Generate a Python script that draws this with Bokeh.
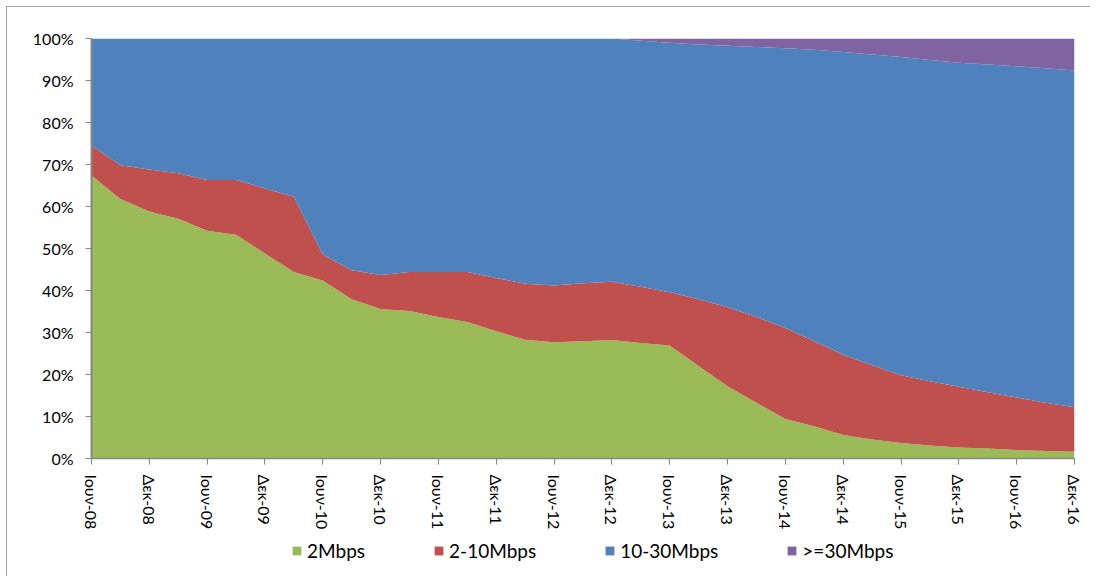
from bokeh.plotting import figure
from bokeh.models import ColumnDataSource, Range1d, FixedTicker, Legend, LegendItem
from bokeh.layouts import column
from bokeh.embed import file_html
from bokeh.resources import INLINE

# Quarterly observations, Jun-08 .. Dec-16 (percent of lines)
quarters = ["Ιουν-08", "Σεπ-08", "Δεκ-08", "Μαρ-09", "Ιουν-09", "Σεπ-09", "Δεκ-09", "Μαρ-10",
            "Ιουν-10", "Σεπ-10", "Δεκ-10", "Μαρ-11", "Ιουν-11", "Σεπ-11", "Δεκ-11", "Μαρ-12",
            "Ιουν-12", "Σεπ-12", "Δεκ-12", "Μαρ-13", "Ιουν-13", "Σεπ-13", "Δεκ-13", "Μαρ-14",
            "Ιουν-14", "Σεπ-14", "Δεκ-14", "Μαρ-15", "Ιουν-15", "Σεπ-15", "Δεκ-15", "Μαρ-16",
            "Ιουν-16", "Σεπ-16", "Δεκ-16"]

mbps_2 = [67.4, 61.8, 58.8, 57.1, 54.2, 53.3, 48.8, 44.4, 42.4, 37.9, 35.6, 35.1, 33.7, 32.5,
          30.3, 28.3, 27.7, 27.9, 28.2, 27.5, 26.9, 22.0, 17.2, 13.3, 9.4, 7.7, 5.6, 4.5, 3.7,
          3.1, 2.6, 2.4, 2.0, 1.8, 1.6]
mbps_2_10 = [7.1, 8.0, 10.0, 10.8, 12.1, 13.0, 15.5, 17.9, 6.2, 6.9, 8.1, 9.3, 10.7, 11.9,
             12.7, 13.3, 13.5, 13.8, 13.9, 13.4, 12.7, 15.9, 18.8, 20.4, 21.7, 20.2, 19.1, 17.7,
             16.1, 15.3, 14.5, 13.4, 12.5, 11.5, 10.6]
mbps_30 = [0, 0, 0, 0, 0, 0, 0, 0, 0, 0, 0, 0, 0, 0, 0, 0, 0, 0, 0, 0.55, 1.0, 1.4, 1.7, 2.0,
           2.3, 2.7, 3.2, 3.8, 4.4, 5.1, 5.8, 6.2, 6.6, 7.1, 7.6]
mbps_10_30 = [round(100 - a - b - c, 2) for a, b, c in zip(mbps_2, mbps_2_10, mbps_30)]

series_names = ["2Mbps", "2-10Mbps", "10-30Mbps", ">=30Mbps"]
colors = ["#9BBB59", "#C0504D", "#4F81BD", "#8064A2"]

# axis labels every 6 months
tick_idx = list(range(0, len(quarters), 2))
tick_labels = {i: quarters[i] for i in tick_idx}
y_ticks = list(range(0, 101, 10))

FONT = "Lato"
stackers = ["s0", "s1", "s2", "s3"]

src = ColumnDataSource(dict(x=list(range(len(quarters))), s0=mbps_2, s1=mbps_2_10,
                            s2=mbps_10_30, s3=mbps_30))

p = figure(width=1083, height=528, output_backend="svg", toolbar_location=None,
           x_range=Range1d(0, len(quarters) - 1), y_range=Range1d(0, 100),
           min_border_left=84, min_border_right=16, min_border_top=31, min_border_bottom=77)

rends = p.varea_stack(stackers=stackers, x="x", color=colors, source=src)

p.xgrid.visible = False
p.ygrid.visible = False
p.outline_line_color = None
p.background_fill_color = "white"
p.border_fill_color = "white"

xa = p.xaxis[0]
xa.ticker = FixedTicker(ticks=tick_idx)
xa.major_label_overrides = tick_labels
xa.major_label_orientation = "vertical"
xa.major_label_text_font = FONT
xa.major_label_text_font_size = "16px"
xa.major_label_text_color = "black"
xa.major_label_standoff = 10
xa.axis_line_color = "#868686"
xa.axis_line_width = 1.5
xa.major_tick_line_color = "#868686"
xa.major_tick_out = 6
xa.major_tick_in = 0
xa.minor_tick_line_color = None

ya = p.yaxis[0]
ya.ticker = FixedTicker(ticks=y_ticks)
ya.major_label_overrides = {v: f"{v}%" for v in y_ticks}
ya.major_label_text_font = FONT
ya.major_label_text_font_size = "16px"
ya.major_label_text_color = "black"
ya.major_label_standoff = 12
ya.axis_line_color = "#868686"
ya.axis_line_width = 2
ya.major_tick_line_color = "#868686"
ya.major_tick_out = 6
ya.major_tick_in = 0
ya.minor_tick_line_color = None

# legend strip below the chart (its areas lie outside its visible range)
lg = figure(width=1083, height=41, output_backend="svg", toolbar_location=None,
            x_range=Range1d(0, 1), y_range=Range1d(101, 102),
            x_axis_type=None, y_axis_type=None, min_border=0)
lg.xgrid.visible = False
lg.ygrid.visible = False
lg.outline_line_color = None
lg.border_fill_color = "white"
lg.background_fill_color = "white"
leg_rends = lg.varea_stack(stackers=stackers, x="x", color=colors, source=src)

legend = Legend(items=[LegendItem(label=n, renderers=[r]) for n, r in zip(series_names, leg_rends)],
                orientation="horizontal", location=(200, 14), padding=0, margin=0,
                spacing=68, glyph_width=11, glyph_height=11, label_standoff=5,
                label_text_font=FONT, label_text_font_size="19px", label_text_color="black",
                border_line_alpha=0, background_fill_alpha=0)
lg.add_layout(legend, "center")

layout = column(p, lg, spacing=0)
layout.styles = {"border-top": "1px solid #a0a0a0", "border-left": "1px solid #a0a0a0",
                 "margin-left": "6px", "margin-top": "6px"}

open("out.html", "w").write(file_html(layout, INLINE))
